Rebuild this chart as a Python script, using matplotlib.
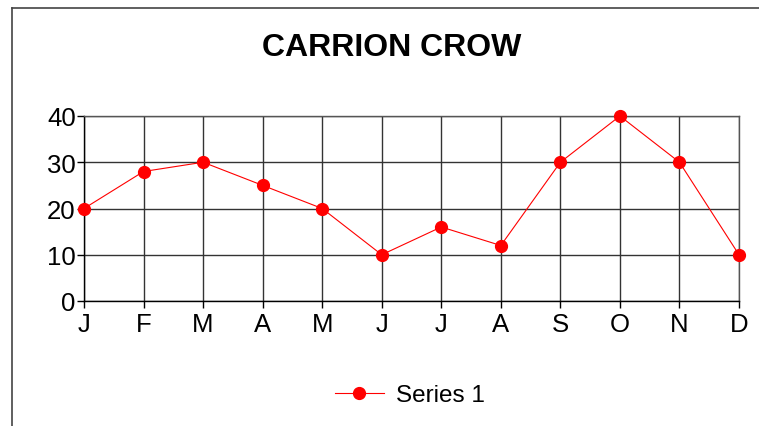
import matplotlib
matplotlib.use("Agg")
import matplotlib.pyplot as plt
from matplotlib.lines import Line2D

plt.rcParams["font.family"] = ["Liberation Sans", "DejaVu Sans"]

months = ["J", "F", "M", "A", "M", "J", "J", "A", "S", "O", "N", "D"]
counts = [20, 28, 30, 25, 20, 10, 16, 12, 30, 40, 30, 10]
y_ticks = [0, 10, 20, 30, 40]

W, H = 759, 427
fig = plt.figure(figsize=(W / 100, H / 100), dpi=100)

# outer frame: only top and left edges visible
fig.add_artist(Line2D([12 / W, 12 / W], [0, 1 - 9 / H], color="#444444", lw=1.2))
fig.add_artist(Line2D([12 / W, 1], [1 - 9 / H, 1 - 9 / H], color="#444444", lw=1.2))

ax = fig.add_axes([84 / W, 1 - 302 / H, (739 - 84) / W, (302 - 117) / H])

x = list(range(len(months)))
ax.plot(x, counts, color="red", lw=0.8, marker="o", markersize=8.5,
        label="Series 1", clip_on=False, zorder=3)

ax.set_xlim(0, len(months) - 1)
ax.set_ylim(0, 40)
ax.set_xticks(x)
ax.set_xticklabels(months)
ax.set_yticks(y_ticks)
ax.tick_params(axis="both", labelsize=18.5, length=5, width=1, color="black")
ax.tick_params(axis="x", pad=3)
ax.tick_params(axis="y", pad=1)
ax.grid(True, color="#333333", lw=1)
ax.set_axisbelow(True)

for side in ["top", "right"]:
    ax.spines[side].set_color("#555555")
    ax.spines[side].set_linewidth(1)
for side in ["left", "bottom"]:
    ax.spines[side].set_color("black")
    ax.spines[side].set_linewidth(1)

fig.text(392 / W, 1 - 48 / H, "CARRION CROW", ha="center", va="center",
         fontsize=23, fontweight="bold")

fig.legend(loc="center", bbox_to_anchor=(410 / W, 1 - 396 / H), frameon=False,
           fontsize=17.5, handlelength=2.0, handletextpad=0.5)

fig.savefig("out.png", dpi=100)
